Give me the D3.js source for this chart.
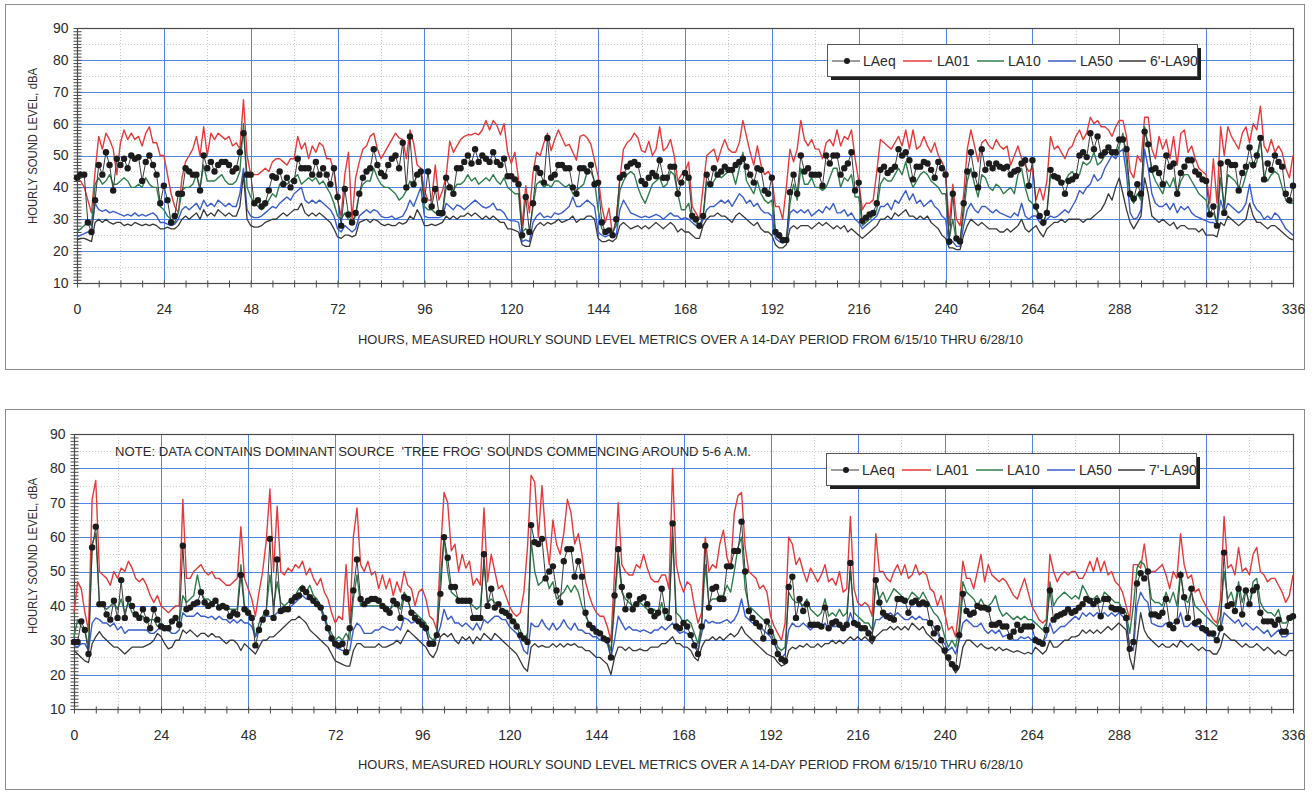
<!DOCTYPE html>
<html>
<head>
<meta charset="utf-8">
<script src="https://cdn.jsdelivr.net/npm/d3@7"></script>
<style>
  body { margin: 0; background: #fff; }
  svg text { font-family: "Liberation Sans", Arial, sans-serif; fill: #2b2b2b; }
</style>
</head>
<body>
<div id="chart"></div>
<script>
// ---- labels / ticks ----
const hourTicks = [0, 24, 48, 72, 96, 120, 144, 168, 192, 216, 240, 264, 288, 312, 336];
const levelTicks = [10, 20, 30, 40, 50, 60, 70, 80, 90];
const topLegendLabels = ['LAeq', 'LA01', 'LA10', 'LA50', "6'-LA90"];
const bottomLegendLabels = ['LAeq', 'LA01', 'LA10', 'LA50', "7'-LA90"];
const xAxisTitle = 'HOURS, MEASURED HOURLY SOUND LEVEL METRICS OVER A 14-DAY PERIOD FROM 6/15/10 THRU 6/28/10';
const yAxisTitle = 'HOURLY SOUND LEVEL, dBA';
const bottomNote = "NOTE: DATA CONTAINS DOMINANT SOURCE  'TREE FROG' SOUNDS COMMENCING AROUND 5-6 A.M.";

// ---- top chart, hourly values (hour 0..336) ----
const topLAeq = [
  43,44,44,29,26,36,47,44,51,47,39,49,47,49,46,50,49,49.5,42,48,50,47,44,35,
  40.5,36,29,31,38,38,46,45,44,44,39,50,46,48,45,47,48,48,47,45,46,51,57,44,
  44,35,36,34,35,39,43.5,43,45,41,43,40,42,49,46,46,46,44,48,44,46,44,41,46,
  37,28,39.5,31.5,29,32,38,43,45,46,52,47,44.5,43.5,47,49,50,46,54,40,56,41,44,45,
  36,45,34,39.5,32,32,43,40,38,46,46,48,50,47.5,52,48,50,49,48,51,48,47,49,43.5,
  43.5,42.5,41,25,37,26,35,46,44.5,41.5,55.5,43,44,47,47,46,46,40,38,46,46,45,47,41,
  41.5,29,26,26.5,25,30,43,44,46.5,47.5,48,47,42,41,43,44.5,43.5,48.5,43,43,46.5,46.5,38,41.5,
  44.5,43,31,30,28,31,44,41,46,44,45,46.5,45.5,45.5,47,48,49,46.5,44,41.5,46,45.5,39,38,
  43,26,25,23.5,23.5,38.5,44,38,50,45,46,44,44,44,40.5,50,47.5,50,50,44,46,47.5,51,39,
  41.5,29.5,30.5,31.5,32,35,45.5,46.5,44.5,45.5,46.5,52,50,51,48.5,42.5,46.5,46.5,48,47.5,45.5,43,48,46,
  44,23,38,24,23,35,45,51,44,40,52,45.5,47.5,46,47.5,46.5,46,46.5,44,45,45.5,47.5,48.5,40.5,
  48.5,34,31,29,32,45.5,43.5,43,41.5,38,42,42.5,43.5,50,51,49.5,57,52,56,50,51,52.5,51,51,
  55,55,52,38,36.5,41,38,57.5,53.5,45.5,46,44.5,41,50,46.5,47.5,38,44.5,46.5,48.5,48.5,45,44,42.5,
  42,31.5,34,28,47.5,32,48,47,47,39,44.5,46.5,52.5,47,50,55.5,42.5,47.5,45.5,50,48,46.5,38,36,40.5
];
const topLA01 = [
  43,42,40,36,32,45,56,52,57,55,52,44,54,58,55,57,55,56,53,57,59,54,54,50,
  50,44,38,34,32,43,48,50,52,56,50,59,50,57,55,57,56,55,56,53,54,52,67.5,50,
  44,44,44,45,46,45,48,49,49,48,47,49,49,56,52,54,49,53,51,54,53,49,49,45,
  36,31,44,51,30,43,48,52,53,56,57,52,49,51,53,55,57,55.5,55,49,58,54,47,46,
  39,36,36,47,36,39,43.5,54.5,51,53,55,56,56.5,56.5,57,56.5,58,61,58,61,59.5,56.5,60,51,
  47.5,51,42.5,28,40.5,32,44.5,51,50,54,57,51.5,55,58,55.5,53,53.5,51,48.5,56,56.5,55.5,53.5,48.5,
  43.5,34,29,33.5,25,30,42.5,52,54,55,57,55.5,51.5,51,54.5,50,52,59,51.5,52.5,55,50,42,44,
  45,48,34,32,30,40,50,51,52,48,52,55,52,51,51,54,61,56,51,47,53,47,44,45,
  43,34,34,30,40,52,48,52,61,55,53,55,52,52,49,54,55,53,58,53,56,55,58,49,
  42,33,35,35,36,45,55,54,53,52,54,56,53,58,52,58,52,53,56,53,51,54,50,48,
  45,28,41,30,28,38,52,58,53,48,54,55,53,52,55,53,52,53,47,50,53,49,47,45,
  46,36,40,36,42,56,52,53,51,49,52,53,56,58,55,57,62,60,61,59,59,58,56,59,
  61,61,56,45,43,50,48,62,62,52,49,56,52,55,49,56,47,57,58,51,53,49,46,45,
  44,35,49,35,59,50,59,56,54,52,57,59,54,60,58,65.5,53,51,55,51,53,51,46,43,50
];
const topLA10 = [
  26,27,28,29,28,41,43,41,42,44,41,41,42,43,42,40,40,41,40,43,41,40,40,34,
  33,31,30,29,32,39,40,40,41,44,40,47,42,42,42,43,44,42,41,41,42,45,60,40,
  37,35,34,33,34,36,38,37,41,42,41,42,43,44,41,42,43,42,43,41,42,40,38,35,
  31,30,32,30,29,31,38,41,42,42,46,43,41,40,40,39,38,36,37,39,42,41,44,45,
  34,33,33,32,32,32,40,41,39,41,41,42,44,42,43,41,42,43,42,44,42,41,43,40,
  39,38,38,26,27,26,34,41,42,40,41,40,42,42,41,40,41,38,39,40,41,45,45,42,
  33,27,26,27,26,28,39,42,44,45,44,40,37,35,38,41,42,43,40,41,45,44,38,33,
  33,35,30,29,28,30,42,40,42,44,43,44,45,45,41,46,51,42,40,38,42,38,36,35,
  36,25,24,23,23,35,41,36,46,41,41,43,40,40,39,40,43,46,46,40,43,42,44,37,
  37,28,29,30,31,33,41,43,42,42,44,46,44,48,43,40,42,44,45,44,42,41,40,38,
  38,24,30,23,23,32,42,46,41,37,44,43,40,39,41,40,38,39,40,38,44,46,40,36,
  35,33,31,29,32,44,44,42,41,42,44,45,43,44,48,47,48,51,47,48,50,51,51,50,
  53,57,48,37,35,38,36,59,53,45,42,40,38,42,40,43,38,42,44,44,42,40,38,37,
  36,31,32,29,43,34,44,43,42,40,40,44,48,46,48,55,44,42,44,45,44,40,36,35,35
];
const topLA50 = [
  24.5,25,25.5,26,26,35,33,32.5,33,32,32.5,32,31.5,31,31.5,31,32,31,31.5,31,31.5,32,31,29,
  29,28.5,28,28.5,30,33,34,33,34,35,33,36,34,35,34,36,35,34,35,34,34,38,46,33,
  31,30.5,30.5,31,32,33,34,33.5,35,36,37,36,38,39,40,36,35,36,35,36,35,34,33,31,
  27,26,28,27,26,27,31,32,33,32,33,32.5,31,30.5,30.5,31,30,30.5,31,33,36,34,37,40,
  31,30.5,30.5,30.5,30.5,31,35,34,33,34.5,34,33,34,35,36,35,34,33.5,34,35,33,33,32,30,
  29.5,29.5,29,23,23.5,23,29,31,32,30.5,31,30.5,32,31.5,32,33,34,37,34,34,35,36,35,34,
  26,25,24.5,25,24.5,25,33,36,34,32,31.5,31,30.5,31,30.5,31,31.5,31,30,31,32,31,31,30,
  30.5,30,29,28,27,30,33,34,34,35,36,35,36,34,36,38,37,35,36,34,35,33,32,32,
  31,24,23,22.5,23,32,33,32,33,32,33,31,32,33,32,34,33,35,32,32,33,31,32,30,
  29,27,28,29,30,31,34,34,35,33,36,35,37,39,36,38,35,36,34,35,36,34,33,31,
  30,22,23,21.5,21.5,28,33,35,33,32,34,34,33,32,33,32,31.5,31,30.5,32,31,35,31,30,
  31,31,29,28,30,31,30.5,31,32,33,32,34,36,39,38,40,41,44,42,43,46,48,50,49,
  51,52,44,32,30,30.5,33,52,46,38,35,34,34,35,33,35,32,34,33,34,32,31,30.5,30,
  29.5,29,29,28,36,32,35,34,33,32,33,35,41,35,33,32,30,31,30,32,31,29,27,26,25
];
const topLA90 = [
  23.5,24,24,23.5,23,29,30,29,30,29,28.5,29,29,28,28.5,28,29,28.5,28,28.5,28,28.5,28,27,
  27,27.5,27,27,28,30,31,30,31,32,30,33,31,32,31,33,32,31,32,31,31,34,44,30,
  28,27.5,27.5,28,29,29.5,30,30,31,32,31,32,33,33,35,32,31,32,31,32,31,30,29,27,
  24.5,24,25,25,24.5,25,29,29.5,30,29,30,29.5,28.5,28,28.5,28,28,29,28.5,29,31,30,33,31,
  28,28,28.5,28,28.5,29,31,30,31,30,31,31,32,31,32,31,30,31,30,31,30,29,29,27,
  27,26.5,26,22,21.5,21.5,26,28,29,28,29,28.5,29,30,29,29.5,30,31,29,30,30,31,31,30,
  24,23,23,23.5,23,24,28,29,28,27,27.5,28,27,28,27,28,29,28,27,28,29,28,26,27,
  26,26,25,24,24,28,30,31,31,32,31,31,30,29,31,32,31,30,29,28,29,27,26,26,
  25,22,21,21,22,27,28,27,28,28,28,27,28,29,28,29,28,27,28,27,28,26,27,26,
  25,24,25,26,27,28,30,30,31,30,32,31,32,33,31,31,30,31,30,31,29,28,27,25,
  24,21,21,20.5,20.5,25,28,30,29,28,29,28,27,27,27,26,26,27,26,27,28,30,27,26,
  27,28,26,24.5,27,28,29,29,30,29,30,30,30,30,29,30,30,31,32,33,35,38,36,40,
  43,38,33,29,27,29,31,43,38,31,30,29,30,29,28,29,27,28,28,27,27,27,26,27,
  25,25,25,24.5,29,28,31,30,29,28,29,30,35,31,29,29,28,27,28,28,27,26,25,24,23.5
];

// ---- bottom chart, hourly values (hour 0..336) ----
const bottomLAeq = [
  29.5,29.5,35.5,33,26,57,63,40.5,40.5,37.5,36,41.5,36.5,47.5,36.5,42,40,37.5,36.5,39,36,33.5,39,36,
  34,33.5,33.5,35.5,36.5,34.5,57.5,39,39.5,40.5,41,44,41,40,40.5,41.5,39.5,40,39.5,37,38,37.5,49,39,
  38,36.5,28.5,33,36,38,59.5,36.5,53.5,38.5,39,39,41.5,42.5,43,45,44,42.5,41.5,40.5,39.5,36.5,33.5,30.5,
  29,28.5,29,26.5,33.5,44.5,53.5,42,40.5,41.5,42,42,41.5,40,39,38,41.5,40.5,36.5,42.5,42,38,36.5,35.5,
  34.5,33.5,29,29,31.5,43.5,60,54,45.5,45.5,41.5,41.5,41.5,41.5,36.5,36.5,36.5,55,40,45,39.5,40.5,38.5,38,
  37,35.5,34,31.5,30.5,29.5,63.5,58.5,58,59.5,48,50,51.5,44.5,41,53,56.5,56.5,48.5,53,48.5,38,34.5,33.5,
  32.5,32,30.5,30,25,43,56.5,45.5,39,43,39,40.5,42,42.5,40.5,38.5,37,38,45,38.5,36.5,64,34,33.5,
  35,34,31.5,28.5,26,34,57.5,39.5,45,45.5,42,42,51.5,51.5,56,56,64.5,50,38.5,36.5,35,34,30.5,35.5,
  32.5,29.5,26,24.5,24,45.5,48.5,36.5,42,38.5,40.5,34.5,34.5,34.5,34,39.5,33.5,35,35.5,34.5,33.5,34.5,52.5,35,
  34.5,33.5,33.5,32,30.5,47.5,41,38,37,36.5,36,42,42,41.5,38,41,41.5,40.5,41,40.5,35,32,33.5,30,
  27,25,23,22,31.5,43.5,38.5,37.5,38,40,39.5,39.5,39,34.5,34.5,35,34,34,31,32.5,34.5,33,34,34,
  34,30,29.5,29,33,44.5,36,37,37.5,38,39,38,38.5,39.5,40.5,42,41.5,40.5,41.5,37,42,42,39.5,39,
  39,38.5,36.5,27.5,29.5,46.5,49.5,48,50,37.5,37.5,37,38,42,34.5,33.5,35.5,49,42.5,36.5,45,35,35.5,33.5,
  33,32,32,30,33.5,55.5,40,40.5,38.5,45,37.5,44.5,40.5,44.5,45.5,38,35.5,35.5,35.5,34.5,36,32.5,32.5,36.5,37
];
const bottomLA01 = [
  38,47,45,38,33,71,76.5,50,49,48,46,50,48,51,50,53,51,48,47,48,46,43,41,43,
  40,39,38,39,40,40,71,48,48,50,51,52,50,49,50,48,48,47,46,46,47,48,63,48,
  45,42,37,44,50,59,74,50,69,50,49,51,50,52,51,53,49,51,48,46,48,44,42,38,
  35,37,36,52,35,60,68.5,52,50,53,49,50,45,49,45,48,43,47,44,50,46,45,40,44,
  45,42,37,36,33,55,73,70,56,58,50,55,51,53,46,48,46,68.5,47,55,50,45,46,43,
  40,38,37,38,44,57,78,76,60,75,60,52,65,58,55,61,71,67,58,61,55,47,43,40,
  38,37,37,34,30,50,70,52,50,49,49,52,51,55,51,48,47,47,49,49,45,80,52,47,
  44,47,46,40,35,38,60,50,52,51,58,62,54,51,67,72,73,57,50,49,48,45,46,44,
  37,34,32,30,35,60,58,52,54,50,47,51,49,47,49,52,47,48,46,50,44,45,66,45,
  41,40,41,40,37,61,50,50,48,47,50,52,49,52,48,49,52,49,50,49,45,44,40,43,
  38,33,34,31,40,53,48,48,45,50,55,47,52,49,48,47,48,47,45,43,42,45,48,44,
  40,38,36,35,36,55,50,47,49,50,49,50,50,48,48,50,53,50,54,50,53,49,50,47,
  46,44,40,36,52,52,51,58,50,50,50,51,52,49,45,50,48,61,52,48,49,44,45,42,
  40,38,36,35,42,66,51,52,49,57,50,51,49,55,57,50,49,47,48,48,46,44,41,43,49
];
const bottomLA10 = [
  31,36,34,33,28,58,61,41,40,39,40,41,39,42,38,41,38,38,37,37,35,36,36,34,
  35,34,34,35,36,35,43,41,42,43,49,44,42,42,41,42,40,40,40,39,39,39,52,40,
  39,37,31,35,37,39,49,40,47,41,40,41,42,43,45,46,44,46,43,42,40,37,34,32,
  30,31,30,32,30,42,49,40,40,40,40,40,40,40,40,39,40,40,39,44,42,38,38,37,
  36,35,31,30,32,48,60,50,44,43,42,42,42,41,40,39,40,52,41,42,41,40,39,38,
  37,36,35,33,30,32,59,50,46,47,49,45,47,42,43,44,46,44,46,44,40,37,35,34,
  33,32,31,30,27,40,55,44,42,41,40,41,41,40,39,38,39,37,41,36,38,60,38,37,
  35,36,35,32,29,35,52,41,42,42,43,43,46,44,50,57,60,45,40,39,38,37,36,35,
  34,31,28,27,28,44,42,41,41,40,42,39,38,37,38,42,37,38,37,39,37,38,50,38,
  37,36,35,35,33,47,42,44,41,43,45,44,43,41,42,44,43,42,44,42,40,38,37,35,
  31,28,30,28,34,47,44,43,42,40,42,40,40,41,43,39,37,38,37,36,37,36,37,36,
  36,35,34,33,35,47,40,42,43,44,43,42,43,42,46,44,42,42,43,41,44,43,42,41,
  41,39,38,32,40,51,53,52,49,42,41,41,40,44,41,44,40,50,42,41,44,40,39,38,
  37,36,35,34,37,50,42,44,40,47,41,45,40,47,48,41,39,38,38,37,39,35,35,36,36
];
const bottomLA50 = [
  28.5,28,29,29,27,35,36.5,36,35,35,34,35,33,34,32,33,33,33,33,33,33,32,32,33,
  34,34,33,32,32,33,38,37,37,37,38,37,37,36.5,37,36,37,36,36,35,36,35,36,35,
  35,34,31,33,36,37,37,37,38,38,38.5,39,40,41,42,43,42,42,41,40,39,36,33,30,
  28,27.5,27,27,27,33,35,34,32,32,32,33,33,34,33.5,33,33,34,33,36.5,36,35,35.5,35,
  34,33,29,28.5,31,34,39,36,37,35,35,34,35,34,33,35,33,36,35,36,37,37,36,36,
  34,33,32,30,27,26,35,34,34,36,34,33,35,33,34,36,34,33,35,33,33,32,32,31,
  31,30,30,29,25,30,37,35,33,34,33,33,32.5,33,32.5,32,33,33,34,33,34,35,33,32,
  32.5,32,31,29,27,32,36,35,35.5,35,35,35.5,36,35,36,38,42,37,36,35,35,34,33,32,
  31,29,27,25,26,33,35,34,34,35,34,33,34,34,33.5,35,33,34,34,35,33,34,38,35,
  34,33,33,33,32,36,36,37,37,38,37,38,37,36,36,37,36,37,36,36,35,34,32,30,
  29,27,28,26,30,35,36,35,34,34,35,33,32,33,32,33,31,31.5,32,30,30,31,30.5,31,
  30,31,30,29.5,31,35,32,33,34,34,35,36,37,36,38,37,38,37,38,37.5,38,37,38,37,
  38,37,36,28,27,40,44,42,41,35,34.5,34,34,35,34,35,35,38,34,34,35,34,34,33,
  32,32,31,30,33,38,37,36,35,36,34,35,34,33,34,33,32,33,31,32,33,31,31,32,32
];
const bottomLA90 = [
  27,26,25,24,23.5,29,31,32.5,31,30,29,28,28,27,26,27,28,28,28,28,28.5,29,30,32,
  31,29,27.5,28,30,30,33,32,33,32,31,32,32,31,32,31,31,30,29,30,30,29,27,29,
  28,27,26,28,30,30,31,31,32,33,34,35,36,36,37,36,35,33,32,31,30,29,28,26,
  24,23.5,23,22.5,22.5,27,29,29,28,28,28,28,29,28,28,28.5,29,30,29,31,33,32,31,30,
  29,28,26,25,27,31,32,31,32,30,29,31,30,31,29,31,30,32,31,30,32,31,30,29,
  28,27,26,24,22,21,28,29,28,28.5,28,28,29,28,29,28,29,28.5,29,28,28,27,27,26,
  25,25,24,23,20,25,28,28,27,28,27,27,27.5,27,27,28,28,28,29,29,30,31,29,29,
  28,28,27,25,24,28,30,30,31,30,31,30,31,32,31,32,34,32,31,30,29,28,27,26,
  25.5,25,23.5,22.5,23,27,28,27.5,28.5,28,29,28,28,29,28,29,29,30,29,30,29,30,31,30,
  31,30,31,30,29,31,32,33,33,34,33,34,33,34,33,35,34,33,34,32,31,30,29,28,
  26,24,22.5,20.5,22,28,30,30,29,28,29,28,27.5,28,27,28,27,27.5,27,26.5,27,26.5,26,26.5,
  26,28,27,26,27,30,28,28,29,30,30,31,31,31.5,33,32,33,32,33,32,33,34,33,34,
  35,34,33,25,21.5,30,38,33,31,30,29,28,29,28,28,29,28,30,29,28,29,28,27,28,
  27,27,26,26,28,32,31,30,30,29,28,29,28,28,29,28,27,28,27,26,27,26,25.5,27,27
];

// ---- styles ----
const seriesStyle = {
  LA01: { color: '#e53a3a', width: 1.4 },
  LA10: { color: '#2f7d4c', width: 1.4 },
  LA50: { color: '#3a5ccc', width: 1.4 },
  LA90: { color: '#383838', width: 1.3 },
  LAeq: { color: '#3a3a3a', width: 1, dot: '#1c1c1c' }
};

const chartConfig = {
  width: 1315,
  height: 792,
  gridColor: '#4f86e6',
  legendLineX: [[5, 33], [76, 105], [150, 177], [221, 249], [292, 319]],
  legendTextX: [36, 110, 181, 253, 323]
};

const panels = [
  {
    frame: { x: 5.5, y: 4.5, w: 1299, h: 365 },
    plot: { left: 77, right: 1293, top: 28, bottom: 283 },
    series: { LA01: topLA01, LA10: topLA10, LA50: topLA50, LA90: topLA90, LAeq: topLAeq },
    legendLabels: topLegendLabels,
    legend: { x: 827, y: 44, w: 370, h: 32 },
    xTitleY: 344,
    yTitleCenter: 146,
    note: null
  },
  {
    frame: { x: 5.5, y: 409.5, w: 1299, h: 380 },
    plot: { left: 74, right: 1293, top: 434, bottom: 709 },
    series: { LA01: bottomLA01, LA10: bottomLA10, LA50: bottomLA50, LA90: bottomLA90, LAeq: bottomLAeq },
    legendLabels: bottomLegendLabels,
    legend: { x: 826, y: 453, w: 370, h: 32 },
    xTitleY: 769,
    yTitleCenter: 556,
    note: { text: bottomNote, x: 115, y: 456, len: 636 }
  }
];

const svg = d3.select('#chart')
  .append('svg')
  .attr('width', chartConfig.width)
  .attr('height', chartConfig.height);

svg.append('rect')
  .attr('width', chartConfig.width)
  .attr('height', chartConfig.height)
  .attr('fill', '#fff');

panels.forEach(p => drawPanel(svg, p));

function drawPanel(svg, p) {
  const g = svg.append('g');
  const x = d3.scaleLinear().domain([0, 336]).range([p.plot.left, p.plot.right]);
  const y = d3.scaleLinear().domain([10, 90]).range([p.plot.bottom, p.plot.top]);

  // outer frame
  g.append('rect')
    .attr('x', p.frame.x).attr('y', p.frame.y)
    .attr('width', p.frame.w).attr('height', p.frame.h)
    .attr('fill', '#fff')
    .attr('stroke', '#8c8c8c')
    .attr('stroke-width', 1);

  // faint dotted minor grid
  const minorLevels = [15, 25, 35, 45, 55, 65, 75, 85];
  const minorHours = hourTicks.slice(0, -1).map(h => h + 12);
  g.append('g').selectAll('line.mh')
    .data(minorLevels).enter().append('line')
    .attr('x1', p.plot.left).attr('x2', p.plot.right)
    .attr('y1', d => Math.round(y(d)) + 0.5).attr('y2', d => Math.round(y(d)) + 0.5)
    .attr('stroke', '#c9c9c9').attr('stroke-dasharray', '1,2');
  g.append('g').selectAll('line.mv')
    .data(minorHours).enter().append('line')
    .attr('x1', d => Math.round(x(d)) + 0.5).attr('x2', d => Math.round(x(d)) + 0.5)
    .attr('y1', p.plot.top).attr('y2', p.plot.bottom)
    .attr('stroke', '#c9c9c9').attr('stroke-dasharray', '1,2');

  // blue major grid
  g.append('g').selectAll('line')
    .data(levelTicks.slice(1, -1)).enter().append('line')
    .attr('x1', p.plot.left).attr('x2', p.plot.right)
    .attr('y1', d => Math.round(y(d)) + 0.5).attr('y2', d => Math.round(y(d)) + 0.5)
    .attr('stroke', chartConfig.gridColor).attr('stroke-width', 1);
  g.append('g').selectAll('line')
    .data(hourTicks.slice(1, -1)).enter().append('line')
    .attr('x1', d => Math.round(x(d)) + 0.5).attr('x2', d => Math.round(x(d)) + 0.5)
    .attr('y1', p.plot.top).attr('y2', p.plot.bottom)
    .attr('stroke', chartConfig.gridColor).attr('stroke-width', 1);

  // plot border
  g.append('rect')
    .attr('x', p.plot.left + 0.5).attr('y', p.plot.top + 0.5)
    .attr('width', p.plot.right - p.plot.left).attr('height', p.plot.bottom - p.plot.top)
    .attr('fill', 'none').attr('stroke', '#4a4a4a').attr('stroke-width', 1.2);

  // axes: labels + crossing ticks
  const yMinor = d3.range(10, 91, 1);
  const xMinor = d3.range(0, 337, 6);
  const axisG = g.append('g');
  axisG.append('g')
    .attr('transform', `translate(${p.plot.left + 0.5},0)`)
    .call(d3.axisLeft(y).tickValues(yMinor).tickSize(4).tickFormat(''));
  axisG.append('g')
    .attr('transform', `translate(${p.plot.left + 0.5},0)`)
    .call(d3.axisRight(y).tickValues(yMinor).tickSize(4).tickFormat(''));
  axisG.append('g')
    .attr('transform', `translate(${p.plot.left + 0.5},0)`)
    .call(d3.axisLeft(y).tickValues(levelTicks).tickSize(0).tickPadding(9))
    .selectAll('text').attr('font-size', 14);
  axisG.append('g')
    .attr('transform', `translate(0,${p.plot.bottom + 0.5})`)
    .call(d3.axisBottom(x).tickValues(xMinor).tickSize(4).tickFormat(''));
  axisG.append('g')
    .attr('transform', `translate(0,${p.plot.bottom + 0.5})`)
    .call(d3.axisTop(x).tickValues(xMinor).tickSize(3).tickFormat(''));
  axisG.append('g')
    .attr('transform', `translate(0,${p.plot.bottom + 0.5})`)
    .call(d3.axisBottom(x).tickValues(hourTicks).tickSize(0).tickPadding(21))
    .selectAll('text').attr('font-size', 14);
  axisG.selectAll('.domain').remove();
  axisG.selectAll('.tick line').attr('stroke', '#4a4a4a');
  axisG.selectAll('text').attr('fill', '#2b2b2b').attr('font-family', '"Liberation Sans", Arial, sans-serif');

  // series lines
  const line = d3.line()
    .x((d, i) => x(i))
    .y(d => y(d));
  const plotG = g.append('g');
  ['LA01', 'LA10', 'LA50', 'LA90', 'LAeq'].forEach(key => {
    const st = seriesStyle[key];
    plotG.append('path')
      .datum(p.series[key])
      .attr('d', line)
      .attr('fill', 'none')
      .attr('stroke', st.color)
      .attr('stroke-width', st.width)
      .attr('stroke-linejoin', 'round');
  });
  plotG.selectAll('circle')
    .data(p.series.LAeq)
    .enter()
    .append('circle')
    .attr('cx', (d, i) => x(i))
    .attr('cy', d => y(d))
    .attr('r', 3.2)
    .attr('fill', seriesStyle.LAeq.dot);

  // titles
  g.append('text')
    .attr('x', 358).attr('y', p.xTitleY)
    .attr('font-size', 12)
    .attr('textLength', 665).attr('lengthAdjust', 'spacingAndGlyphs')
    .text(xAxisTitle);
  g.append('text')
    .attr('transform', `translate(37,${p.yTitleCenter}) rotate(-90)`)
    .attr('text-anchor', 'middle')
    .attr('font-size', 12)
    .attr('textLength', 156).attr('lengthAdjust', 'spacingAndGlyphs')
    .text(yAxisTitle);

  if (p.note) {
    g.append('text')
      .attr('x', p.note.x).attr('y', p.note.y)
      .attr('font-size', 12)
      .style('white-space', 'pre')
      .attr('textLength', p.note.len).attr('lengthAdjust', 'spacingAndGlyphs')
      .text(p.note.text);
  }

  renderLegend(g, p);
}

function renderLegend(g, p) {
  const L = p.legend;
  const lg = g.append('g').attr('transform', `translate(${L.x},${L.y})`);
  lg.append('rect')
    .attr('x', 4).attr('y', 4).attr('width', L.w).attr('height', L.h)
    .attr('fill', '#1e1e1e');
  lg.append('rect')
    .attr('x', 0.5).attr('y', 0.5).attr('width', L.w).attr('height', L.h)
    .attr('fill', '#fff').attr('stroke', '#555');
  const keys = ['LAeq', 'LA01', 'LA10', 'LA50', 'LA90'];
  const cy = L.h / 2 + 1;
  keys.forEach((key, i) => {
    const [x1, x2] = chartConfig.legendLineX[i];
    const st = seriesStyle[key];
    lg.append('line')
      .attr('x1', x1).attr('x2', x2).attr('y1', cy).attr('y2', cy)
      .attr('stroke', st.color).attr('stroke-width', key === 'LAeq' ? 1 : 1.5);
    if (key === 'LAeq') {
      lg.append('circle').attr('cx', (x1 + x2) / 2 + 1).attr('cy', cy).attr('r', 3).attr('fill', st.dot);
    }
    lg.append('text')
      .attr('x', chartConfig.legendTextX[i]).attr('y', cy + 5)
      .attr('font-size', 14)
      .text(p.legendLabels[i]);
  });
}
</script>
</body>
</html>
